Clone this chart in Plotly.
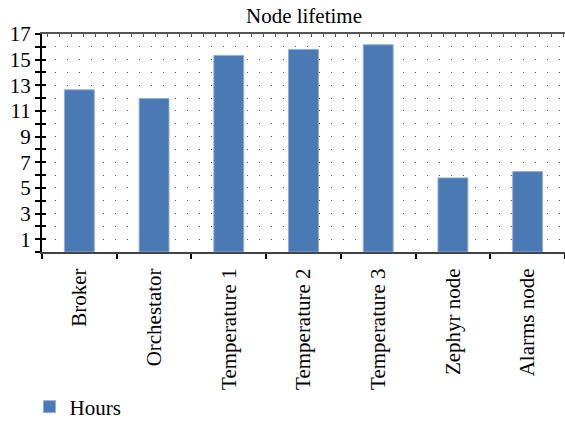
import plotly.graph_objects as go

categories = ["Broker", "Orchestator", "Temperature 1", "Temperature 2",
              "Temperature 3", "Zephyr node", "Alarms node"]
hours = [12.65, 11.97, 15.33, 15.8, 16.16, 5.78, 6.27]
y_tick_values = [1, 3, 5, 7, 9, 11, 13, 15, 17]

FONT = "Liberation Serif"
DOTS = "0px,1px,1px,10px"
FS = 21

W, H = 565, 421
L, T, B = 42, 34, 169
PLOT_H = H - T - B

fig = go.Figure()
fig.add_trace(go.Bar(
    x=categories, y=hours, name="Hours", width=0.4,
    marker=dict(color="#4a79b4", line=dict(color="#8fb0d8", width=1)),
))
# empty helper trace so the decorative overlay axes are drawn
fig.add_trace(go.Scatter(x=[], y=[], xaxis="x2", yaxis="y2", showlegend=False))

fig.update_layout(
    width=W, height=H,
    margin=dict(l=L, r=0, t=T, b=B, autoexpand=False),
    paper_bgcolor="white", plot_bgcolor="white",
    font=dict(family=FONT, size=FS, color="black"),
    title=dict(text="Node lifetime", x=304 / W, xanchor="center",
               y=1 - 16 / H, yanchor="middle",
               font=dict(family=FONT, size=FS, color="black")),
    showlegend=True,
    legend=dict(orientation="h", x=29.5 / W, xanchor="left", xref="container",
                y=-(407 - (H - B)) / PLOT_H, yanchor="middle", yref="paper",
                font=dict(family=FONT, size=FS, color="black")),
    xaxis=dict(type="category", tickson="boundaries", ticks="outside",
               ticklen=5, tickwidth=1.5, tickcolor="black",
               showline=True, linecolor="#444", linewidth=2,
               tickangle=-90, ticklabelstandoff=6, automargin=False,
               showgrid=False, zeroline=False,
               tickfont=dict(family=FONT, size=FS, color="black")),
    yaxis=dict(range=[0, 17], tickvals=y_tick_values, ticks="outside",
               ticklen=5, tickwidth=1.5, tickcolor="black",
               showline=True, linecolor="black", linewidth=2,
               showgrid=True, gridcolor="#555", gridwidth=1, griddash=DOTS,
               zeroline=False, automargin=False,
               minor=dict(dtick=1, tick0=0, ticks="outside", ticklen=5,
                          tickwidth=1.5, tickcolor="black",
                          showgrid=True, gridcolor="#555", gridwidth=1,
                          griddash=DOTS),
               tickfont=dict(family=FONT, size=FS, color="black")),
    xaxis2=dict(overlaying="x", side="top", anchor="y", range=[0, W - L],
                tick0=5, dtick=12, ticks="inside", ticklen=3, tickwidth=1,
                tickcolor="#555", showline=True, linecolor="#555",
                linewidth=2, showticklabels=False, showgrid=False,
                zeroline=False, automargin=False),
    yaxis2=dict(overlaying="y", side="left", anchor="x", range=[0, 17],
                dtick=1, tick0=0, ticks="inside", ticklen=4, tickwidth=1.5,
                tickcolor="black", showline=False, showticklabels=False,
                showgrid=False, zeroline=False, automargin=False),
)

# remove the default 8px page margin so the figure fills the window exactly
fig.write_html("out.html",
               config={"displayModeBar": False},
               post_script="document.body.style.margin='0';"
                           "document.body.style.overflow='hidden';")
